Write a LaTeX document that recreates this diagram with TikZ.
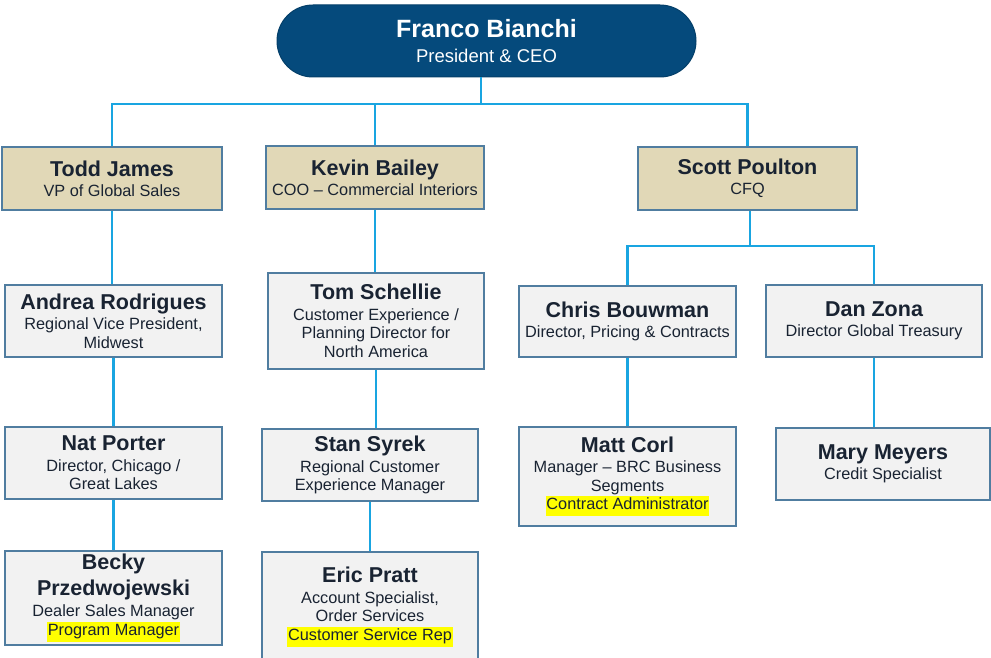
\documentclass[tikz,border=0pt]{standalone}
\usepackage{fontspec}
\setmainfont{Liberation Sans}
\usetikzlibrary{positioning}

\definecolor{ceoblue}{RGB}{5,74,124}
\definecolor{tanfill}{RGB}{225,216,183}
\definecolor{boxgray}{RGB}{242,242,242}
\definecolor{boxedge}{RGB}{80,125,160}
\definecolor{linkblue}{RGB}{25,165,225}
\definecolor{inkdark}{RGB}{25,35,50}
\definecolor{hlyellow}{RGB}{255,255,0}

\newcommand{\pname}[1]{{\fontsize{21.5}{24}\selectfont\bfseries #1}}
\newcommand{\hilite}[1]{{\setlength{\fboxsep}{0.6pt}\colorbox{hlyellow}{\strut #1}}}

\tikzset{
  exec/.style={draw=boxedge, line width=1.2pt, fill=tanfill, text=inkdark, align=center,
    minimum height=63, inner sep=0pt, font=\fontsize{16.3}{18.5}\selectfont},
  staff/.style={exec, fill=boxgray},
  ceo/.style={draw=ceoblue!85!black, line width=1pt, fill=ceoblue, text=white, align=center,
    minimum width=419, minimum height=72, rounded corners=36, font=\fontsize{18.5}{22}\selectfont},
  link/.style={draw=linkblue, line width=2.4pt},
}

\begin{document}
\begin{tikzpicture}[x=1pt,y=-1pt]
  \clip (0,0) rectangle (991,658);

  \node[ceo] (ceo) at (486.5,41) {{\fontsize{25}{28}\selectfont\bfseries Franco Bianchi}\\[3.5pt]President \& CEO};

  % reports to the CEO
  \node[exec, minimum width=220] (todd) at (112,178.5) {\pname{Todd James}\\[1.5pt]VP of Global Sales};
  \node[exec, minimum width=218] (kevin) at (375,177.5) {\pname{Kevin Bailey}\\[1.5pt]COO -- Commercial Interiors};
  \node[exec, minimum width=219] (scott) at (747.5,178.5) {\pname{Scott Poulton}\\[1.5pt]CFQ};

  % second level
  \node[staff, minimum width=217, minimum height=72] (andrea) at (113.5,321) {\pname{Andrea Rodrigues}\\[2pt]Regional Vice President,\\Midwest};
  \node[staff, minimum width=216, minimum height=96] (tom) at (376,321) {\pname{Tom Schellie}\\[2pt]Customer Experience /\\Planning Director for\\North America};
  \node[staff, minimum width=217, minimum height=71] (chris) at (627.5,321.5) {\pname{Chris Bouwman}\\[2pt]Director, Pricing \& Contracts};
  \node[staff, minimum width=216, minimum height=72] (dan) at (874,321) {\pname{Dan Zona}\\[2pt]Director Global Treasury};

  % third level
  \node[staff, minimum width=217, minimum height=72] (nat) at (113.5,463) {\pname{Nat Porter}\\[2pt]Director, Chicago /\\Great Lakes};
  \node[staff, minimum width=216, minimum height=72] (stan) at (370,465) {\pname{Stan Syrek}\\[2pt]Regional Customer\\Experience Manager};
  \node[staff, minimum width=217, minimum height=99] (matt) at (627.5,476.5) {\pname{Matt Corl}\\[2pt]Manager -- BRC Business\\Segments\\\hilite{Contract Administrator}};
  \node[staff, minimum width=214, minimum height=72] (mary) at (883,464) {\pname{Mary Meyers}\\[2pt]Credit Specialist};

  % fourth level
  \node[staff, minimum width=217, minimum height=94] (becky) at (113.5,598) {\pname{Becky}\\[5pt]\pname{Przedwojewski}\\[2.5pt]Dealer Sales Manager\\\hilite{Program Manager}};
  \node[staff, minimum width=216, minimum height=110] (eric) at (370,607) {\pname{Eric Pratt}\\[2pt]Account Specialist,\\Order Services\\\hilite{Customer Service Rep}};

  % connectors
  \coordinate (ceobus) at (481,104);
  \coordinate (cfobus) at (750,246);
  \draw[link] (ceo.south -| ceobus) -- (ceobus);
  \draw[link] (todd.north) |- (ceobus) -| (scott.north);
  \draw[link] (kevin.north) -- (kevin.north |- ceobus);
  \draw[link] (scott.south -| cfobus) -- (cfobus);
  \draw[link] (chris.north) |- (cfobus) -| (dan.north);
  \foreach \up/\down in {todd/andrea, andrea/nat, nat/becky, kevin/tom, tom/stan, stan/eric, chris/matt, dan/mary}
    \draw[link] (\up.south) -- (\up.south |- \down.north);
\end{tikzpicture}
\end{document}
